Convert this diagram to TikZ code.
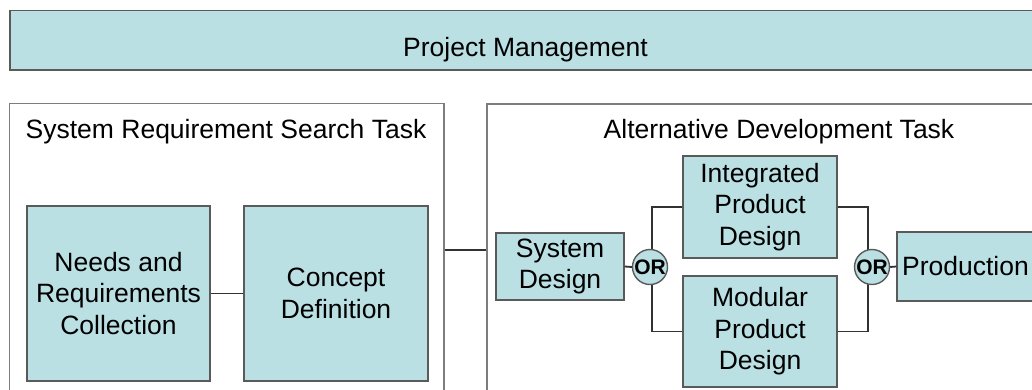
\documentclass[tikz,border=0pt]{standalone}
\usepackage{fontspec}
\setmainfont{Liberation Sans}
\definecolor{boxfill}{RGB}{186,224,228}
\definecolor{boxline}{RGB}{90,90,90}
\definecolor{frameline}{RGB}{125,125,125}
\definecolor{conn}{RGB}{50,50,50}
\tikzset{
  txt/.style={font=\fontsize{26.5pt}{31.5pt}\selectfont, text=black},
  box/.style={txt, draw=boxline, fill=boxfill, line width=1.4pt, align=center, inner sep=0pt},
  frame/.style={draw=frameline, fill=white, line width=1.4pt, inner sep=0pt},
  orc/.style={circle, draw=boxline, fill=boxfill, line width=1.4pt, inner sep=0pt, minimum size=35pt,
    font=\fontsize{21pt}{22pt}\selectfont\bfseries},
  wire/.style={draw=conn, line width=1.8pt}
}
\begin{document}
\begin{tikzpicture}[x=1pt,y=-1pt]
\useasboundingbox (0,0) rectangle (1032,389);
\clip (0,0) rectangle (1032,389);
\fill[white] (0,0) rectangle (1032,389);
% top bar
\node[box, minimum width=1035pt, minimum height=59.5pt, text height=0pt, text depth=0pt] (pm) at (527.5,40.25) {};
\node[txt, anchor=base] (pmt) at (525.5,56) {Project Management};
% task frames
\node[frame, minimum width=434.5pt, minimum height=316.5pt] (lt) at (226.75,261.75) {};
\node[frame, minimum width=558pt, minimum height=316pt] (rt) at (766,262) {};
\node[txt, anchor=base] (ltt) at (226,138) {System Requirement Search Task};
\node[txt, anchor=base] (rtt) at (779,138) {Alternative Development Task};
% inner boxes
\node[box, minimum width=183pt, minimum height=175pt] (needs) at (118.5,293.5) {Needs and\\Requirements\\Collection};
\node[box, minimum width=184pt, minimum height=175pt] (concept) at (336,293.5) {Concept\\Definition};
\node[box, minimum width=128pt, minimum height=67pt] (sys) at (560,266.5) {System\\Design};
\node[box, minimum width=154pt, minimum height=102pt] (int) at (760,207) {Integrated\\Product\\Design};
\node[box, minimum width=154pt, minimum height=111pt] (mod) at (760,331.5) {Modular\\Product\\Design};
\node[box, minimum width=137pt, minimum height=69pt] (prod) at (965.5,266.5) {Production};
% connectors
\coordinate (tl) at (lt.east |- 0,250);
\coordinate (tr) at (rt.west |- 0,250);
\draw[wire] (tl) -- (tr);
\draw[wire] (needs.east) -- (concept.west);
\draw[wire] (int.west) -- ++(-30,0) |- (mod.west);
\draw[wire] (int.east) -- ++(30,0) |- (mod.east);
\node[orc] (or1) at (650,267) {OR};
\node[orc] (or2) at (872,267) {OR};
\draw[wire] (sys.east) -- (or1.west);
\draw[wire] (or2.east) -- (prod.west);
\end{tikzpicture}
\end{document}
